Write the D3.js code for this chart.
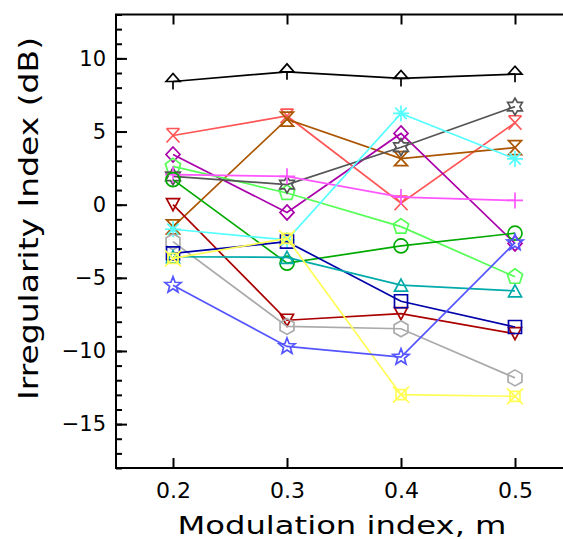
<!DOCTYPE html>
<html><head><meta charset="utf-8">
<script src="https://cdn.jsdelivr.net/npm/d3@7"></script>
<style>body{margin:0;background:#fff}svg{display:block}</style>
</head><body><svg id="c" width="563" height="539"></svg>
<script>
const mValues = [0.2, 0.3, 0.4, 0.5];
const xTicks = [0.2, 0.3, 0.4, 0.5];
const yTicks = [-15, -10, -5, 0, 5, 10];
const seriesNames = ["s1","s2","s3","s4","s5","s6","s7","s8","s9","s10","s11","s12","s13","s14","s15"];
const seriesColors = ["#000000","#ff5555","#aa5500","#aa00aa","#55ff55","#555555","#ff55ff","#00aa00","#aa0000","#55ffff","#aaaaaa","#0000aa","#00aaaa","#ffff55","#5555ff"];
const seriesMarkers = ["triStem","barX","hourglass","diamond","pentagon","hexagram","plus","circle","triDown","asterisk","hexagon","square","triUp","boxX","star"];
const s1  = [8.42, 9.08, 8.63, 8.92];
const s2  = [4.73, 6.06, 0.1, 5.6];
const s3  = [-1.52, 5.85, 3.15, 3.9];
const s4  = [3.43, -0.53, 4.87, -2.65];
const s5  = [2.62, 0.8, -1.5, -4.93];
const s6  = [1.94, 1.37, 3.93, 6.7];
const s7  = [2.05, 1.94, 0.52, 0.29];
const s8  = [1.71, -4.0, -2.82, -1.95];
const s9  = [0.0, -7.9, -7.45, -8.82];
const s10 = [-1.68, -2.41, 6.24, 3.13];
const s11 = [-2.53, -8.32, -8.48, -11.84];
const s12 = [-3.33, -2.53, -6.6, -8.36];
const s13 = [-3.56, -3.6, -5.5, -5.89];
const s14 = [-3.67, -2.3, -12.99, -13.1];
const s15 = [-5.5, -9.69, -10.42, -2.6];
const seriesValues = [s1,s2,s3,s4,s5,s6,s7,s8,s9,s10,s11,s12,s13,s14,s15];

(function () {
const svg = d3.select("#c");
const x = d3.scaleLinear().domain([0.15, 0.55]).range([116, 572]);
const y = d3.scaleLinear().domain([-18, 13]).range([468, 14.5]);
const font = "'DejaVu Sans', sans-serif";

function poly(n, r, rot, inner) {
  const pts = [];
  const k = inner ? 2*n : n;
  for (let i = 0; i < k; i++) {
    const a = rot + i * Math.PI * 2 / k;
    const rr = inner ? (i % 2 ? inner : r) : r;
    pts.push([rr*Math.sin(a), -rr*Math.cos(a)]);
  }
  return "M" + pts.map(p => p[0].toFixed(2)+","+p[1].toFixed(2)).join("L") + "Z";
}
const markerPath = {
  triStem: "M-7,0L0,-8L7,0ZM0,0L0,8",
  triUp: "M0,-6L6.5,6L-6.5,6Z",
  triDown: "M0,6L6.5,-6L-6.5,-6Z",
  hourglass: "M-6.5,-7L6.5,-7L-6.5,7L6.5,7Z",
  barX: "M-6.5,-7L6.5,-7M-6.5,-7L6.5,7M6.5,-7L-6.5,7",
  boxX: "M-5,-5L5,-5L5,5L-5,5ZM-8,-8L8,8M8,-8L-8,8",
  asterisk: "M-8,0L8,0M0,-8L0,8M-5.7,-5.7L5.7,5.7M5.7,-5.7L-5.7,5.7",
  plus: "M-8,0L8,0M0,-8L0,8",
  hexagon: poly(6, 8, 0),
  hexagram: poly(6, 8.5, 0, 4.9),
  star: poly(5, 8.5, 0, 3.6),
  pentagon: poly(5, 8, 0),
  circle: "M7,0A7,7 0 1,1 -7,0A7,7 0 1,1 7,0Z",
  diamond: "M0,-7.5L7,0L0,7.5L-7,0Z",
  square: "M-6.5,-6.5L6.5,-6.5L6.5,6.5L-6.5,6.5Z"
};

const axW = 2;
const axLeft = d3.axisLeft(y).tickValues(yTicks).tickSize(-11).tickPadding(10).tickFormat(d3.format("d"));
const axLeftMinor = d3.axisLeft(y).tickValues(d3.range(-18, 14, 1)).tickSize(-6).tickFormat("");
const axBottom = d3.axisBottom(x).tickValues(xTicks).tickSize(-10).tickPadding(14).tickFormat(d3.format(".1f"));
const axTop = d3.axisTop(x).tickValues(xTicks).tickSize(-10).tickFormat("");

function styleAxis(g, fs) {
  g.select(".domain").remove();
  g.selectAll("line").attr("stroke", "#000").attr("stroke-width", axW);
  g.selectAll("text").attr("font-family", font).attr("font-size", fs).attr("fill", "#000");
}
svg.append("g").attr("transform", "translate(116,0)").call(axLeftMinor).call(g => styleAxis(g, 0));
svg.append("g").attr("transform", "translate(116,0)").call(axLeft).call(g => styleAxis(g, 21));
svg.append("g").attr("transform", "translate(0,468)").call(axBottom).call(g => styleAxis(g, 22));
svg.append("g").attr("transform", "translate(0,14.5)").call(axTop).call(g => styleAxis(g, 0));

svg.append("rect").attr("x", 116).attr("y", 14.5).attr("width", 456).attr("height", 453.5)
  .attr("fill", "none").attr("stroke", "#000").attr("stroke-width", axW);

const line = d3.line().x((d, i) => x(mValues[i])).y(d => y(d));
seriesValues.forEach((vals, si) => {
  const g = svg.append("g").attr("class", "series " + seriesNames[si]);
  g.append("path").attr("d", line(vals)).attr("fill", "none")
    .attr("stroke", seriesColors[si]).attr("stroke-width", 1.7);
  g.selectAll("path.m").data(vals).join("path").attr("class", "m")
    .attr("transform", (d, i) => `translate(${x(mValues[i])},${y(d)})`)
    .attr("d", markerPath[seriesMarkers[si]])
    .attr("fill", "none").attr("stroke", seriesColors[si]).attr("stroke-width", 1.7);
});

svg.append("text").attr("x", 342).attr("y", 534).attr("text-anchor", "middle")
  .attr("font-family", font).attr("font-size", 24)
  .attr("textLength", 329).attr("lengthAdjust", "spacingAndGlyphs")
  .text("Modulation index, m");
svg.append("text").attr("transform", "translate(38,218.5) rotate(-90)").attr("text-anchor", "middle")
  .attr("font-family", font).attr("font-size", 26)
  .attr("textLength", 363).attr("lengthAdjust", "spacingAndGlyphs")
  .text("Irregularity Index (dB)");
})();
</script></body></html>
